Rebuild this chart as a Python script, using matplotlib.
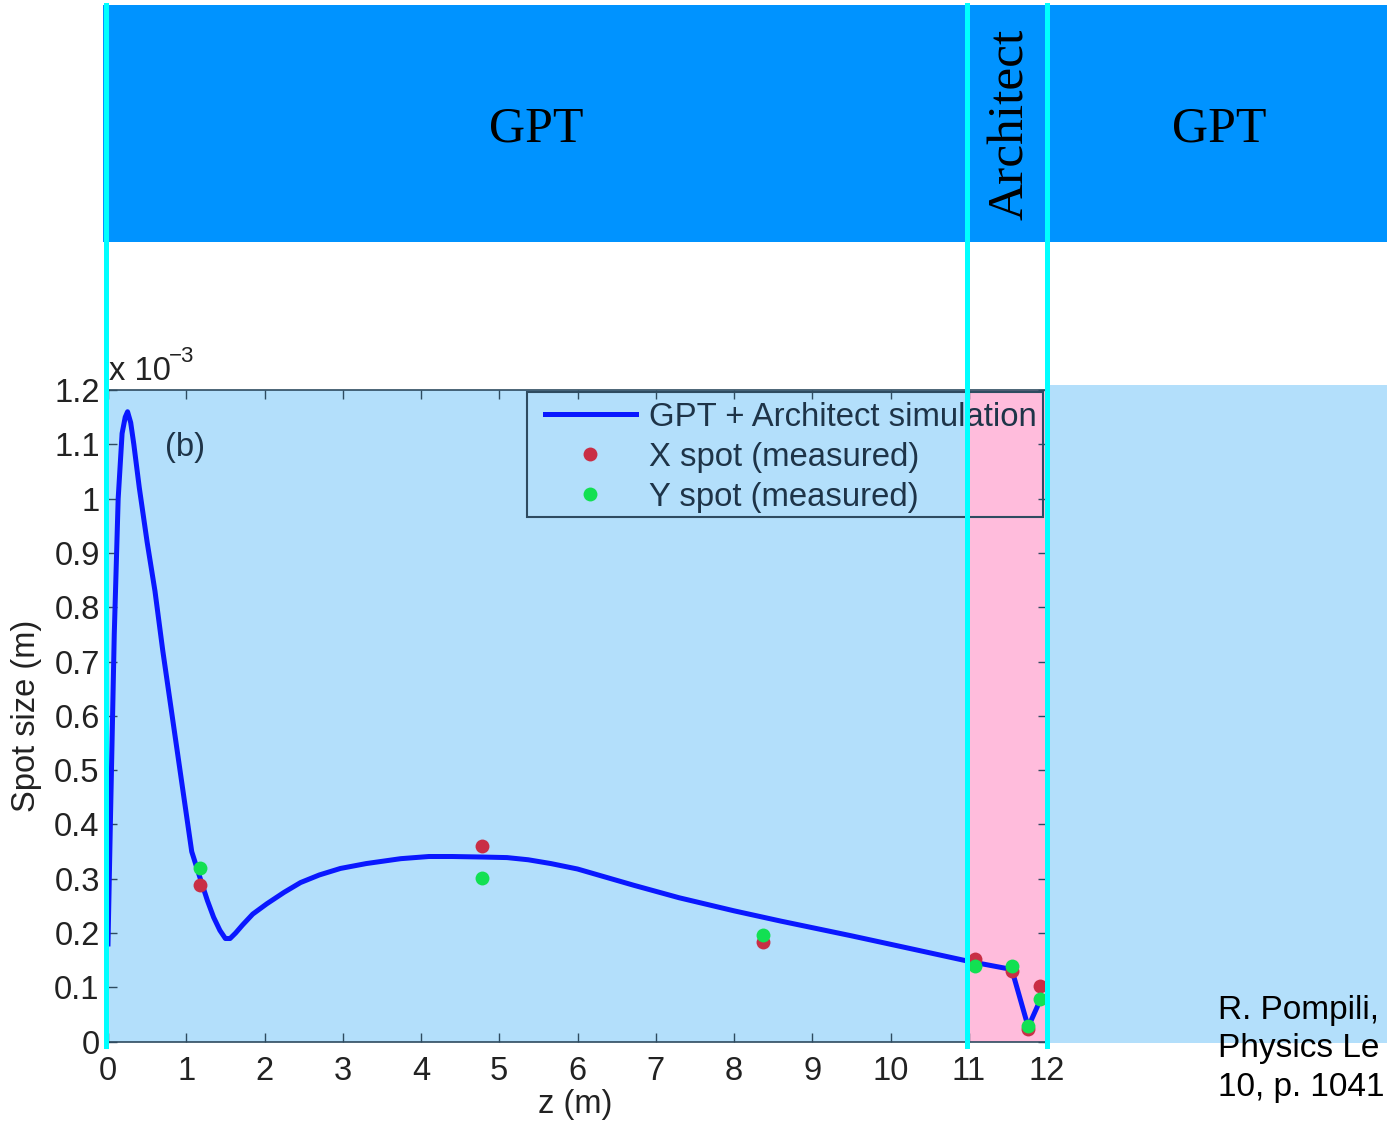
import matplotlib
matplotlib.use("Agg")
import matplotlib.pyplot as plt
from matplotlib.patches import Rectangle
from matplotlib.lines import Line2D

# ---------------- data ----------------
sim_z = [0.0, 0.03, 0.08, 0.13, 0.18, 0.22, 0.25, 0.29, 0.33, 0.40, 0.50, 0.60,
         0.70, 0.80, 0.90, 1.00, 1.07, 1.18, 1.27, 1.35, 1.43, 1.50, 1.56, 1.63,
         1.72, 1.85, 2.03, 2.25, 2.46, 2.70, 2.97, 3.30, 3.74, 4.10, 4.40, 4.80,
         5.10, 5.37, 5.66, 6.00, 6.72, 7.30, 8.00, 8.60, 9.50, 10.30, 11.00,
         11.55, 11.76, 11.93]
sim_spot = [0.18, 0.40, 0.75, 1.00, 1.12, 1.15, 1.16, 1.14, 1.10, 1.02, 0.92, 0.83,
            0.72, 0.62, 0.52, 0.42, 0.35, 0.30, 0.26, 0.229, 0.205, 0.19, 0.19, 0.20,
            0.215, 0.235, 0.254, 0.275, 0.293, 0.307, 0.319, 0.328, 0.337, 0.341, 0.341,
            0.340, 0.339, 0.335, 0.328, 0.318, 0.288, 0.265, 0.241, 0.222, 0.195, 0.170,
            0.148, 0.133, 0.027, 0.082]

meas_z = [1.18, 4.78, 8.37, 11.08, 11.55, 11.76, 11.91]
x_spot = [0.288, 0.361, 0.184, 0.153, 0.131, 0.024, 0.103]
y_spot = [0.319, 0.302, 0.197, 0.140, 0.140, 0.029, 0.079]

xticks = list(range(0, 13))
yticks = [0, 0.1, 0.2, 0.3, 0.4, 0.5, 0.6, 0.7, 0.8, 0.9, 1.0, 1.1, 1.2]
ytick_labels = ["0", "0.1", "0.2", "0.3", "0.4", "0.5", "0.6", "0.7", "0.8",
                "0.9", "1", "1.1", "1.2"]

legend_labels = ["GPT + Architect simulation", "X spot (measured)", "Y spot (measured)"]
band_labels = ["GPT", "Architect", "GPT"]
citation = ["R. Pompili,", "Physics Le", "10, p. 1041"]

# ---------------- style ----------------
W, H = 1387, 1122
SANS = ["Liberation Sans", "DejaVu Sans"]
SERIF = ["Liberation Serif", "DejaVu Serif"]
plt.rcParams["font.family"] = SANS

LIGHT_BLUE = "#B3DFFB"
PINK = "#FFBCDC"
BAND_BLUE = "#0093FF"
CYAN = "#00FFFF"
LINE_BLUE = "#0A18FF"
RED = "#C92E45"
GREEN = "#12E052"
INK = "#1E3448"
SPINE = "#2E4B60"
FS = 23.5

def fx(px):
    return px / W

def fy(py):
    return 1 - py / H

fig = plt.figure(figsize=(W / 100, H / 100), dpi=100)
fig.patch.set_facecolor("white")

ax_l, ax_r, ax_t, ax_b = 108, 1047, 390, 1041.7
ax = fig.add_axes([fx(ax_l), fy(ax_b), (ax_r - ax_l) / W, (ax_b - ax_t) / H])
ax.set_facecolor(LIGHT_BLUE)
ax.set_xlim(0, 12)
ax.set_ylim(0, 1.2)

def axx(px):
    return (px - ax_l) / (ax_r - ax_l)

def axy(py):
    return (ax_b - py) / (ax_b - ax_t)

ax.axvspan(11, 12, color=PINK, zorder=0.5, lw=0)

ax.plot(sim_z, sim_spot, color=LINE_BLUE, lw=3.6, zorder=3,
        solid_joinstyle="round", label=legend_labels[0])
ax.plot(meas_z, x_spot, "o", ls="none", color=RED, ms=10, mew=0, zorder=4,
        label=legend_labels[1])
ax.plot(meas_z, y_spot, "o", ls="none", color=GREEN, ms=10, mew=0, zorder=5,
        label=legend_labels[2])

ax.set_xticks(xticks)
ax.set_xticklabels([str(t) for t in xticks])
ax.set_yticks(yticks)
ax.set_yticklabels(ytick_labels)
ax.tick_params(direction="in", length=6.5, width=1.0, color=SPINE,
               top=True, right=True, labelsize=FS, labelcolor="#222222")
ax.tick_params(axis="x", pad=10.5)
ax.tick_params(axis="y", pad=6)
for s in ax.spines.values():
    s.set_color(SPINE)
    s.set_linewidth(1.2)

# legend (frame drawn separately)
leg = ax.legend(loc="upper left", bbox_to_anchor=(axx(545), axy(402)),
                borderaxespad=0, borderpad=0, frameon=False,
                handlelength=2.76, handletextpad=0.4, labelspacing=0.27,
                prop={"family": SANS, "size": 23.7})
for t in leg.get_texts():
    t.set_color(INK)
leg.set_zorder(6)
ax.add_patch(Rectangle((axx(527), axy(517)), axx(1043) - axx(527), axy(392) - axy(517),
                       transform=ax.transAxes, fill=False, edgecolor=SPINE, lw=1.5,
                       zorder=6))

ax.text(axx(165), axy(448), "(b)", transform=ax.transAxes, fontsize=FS,
        color=INK, ha="left", va="center")

# axis labels and exponent
fig.text(fx(575), fy(1104), "z (m)", fontsize=FS, color="#222222",
         ha="center", va="center")
fig.text(fx(27), fy(716), "Spot size (m)", fontsize=FS, color="#222222",
         ha="center", va="center", rotation=90)
fig.text(fx(109), fy(380), "x 10", fontsize=FS, color="#222222",
         ha="left", va="baseline")
fig.text(fx(169), fy(362), "\u22123", fontsize=16, color="#222222",
         ha="left", va="baseline")

# slide overlays
fig.patches.append(Rectangle((fx(1047), fy(1043)), fx(1387) - fx(1047), fy(385) - fy(1043),
                             transform=fig.transFigure, facecolor=LIGHT_BLUE,
                             edgecolor="none", zorder=0.2))
fig.patches.append(Rectangle((fx(103), fy(242)), fx(1387) - fx(103), fy(5) - fy(242),
                             transform=fig.transFigure, facecolor=BAND_BLUE,
                             edgecolor="none", zorder=1))
for xc in (105.5, 966.5, 1046.5):
    fig.add_artist(Line2D([fx(xc), fx(xc)], [fy(5), fy(1046)], transform=fig.transFigure,
                          color=CYAN, lw=3.6, zorder=10))

fig.text(fx(536), fy(141), band_labels[0], fontsize=36, family=SERIF, color="black",
         ha="center", va="baseline", zorder=11)
fig.text(fx(1219), fy(141), band_labels[2], fontsize=36, family=SERIF, color="black",
         ha="center", va="baseline", zorder=11)
fig.text(fx(1023), fy(124), band_labels[1], fontsize=37, family=SERIF, color="black",
         ha="center", va="baseline", rotation=90, rotation_mode="anchor", zorder=11)

for txt, base in zip(citation, (1019, 1057, 1096)):
    fig.text(fx(1218), fy(base), txt, fontsize=24, color="black",
             ha="left", va="baseline", zorder=11)

fig.savefig("out.png", dpi=100, facecolor="white")
